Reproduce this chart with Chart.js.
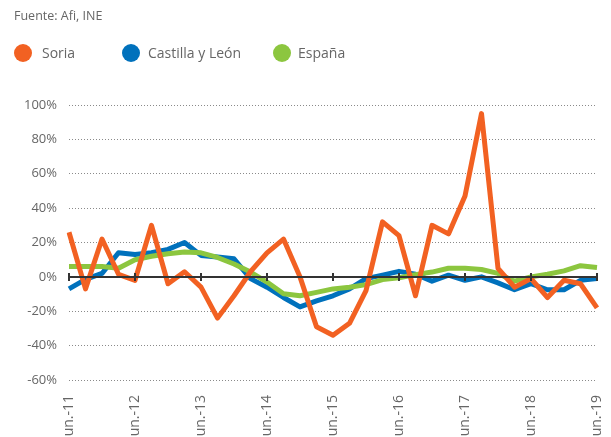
<!DOCTYPE html>
<html>
<head>
<meta charset="utf-8">
<script src="https://cdn.jsdelivr.net/npm/chart.js@4/dist/chart.umd.min.js"></script>
<style>
  body { margin: 0; background: #fff; font-family: "Open Sans", sans-serif; }
  #wrap { position: relative; width: 611px; height: 437px; overflow: hidden; }
  #chart { position: absolute; left: 0; top: 0; }
  .src { position: absolute; left: 14px; top: 7px; font-size: 12.5px; color: #666; line-height: 18px; }
  .item { position: absolute; top: 44px; font-size: 14px; color: #666; line-height: 18px; }
  .dot { position: absolute; top: 0; width: 18px; height: 18px; border-radius: 50%; }
</style>
</head>
<body>
<div id="wrap">
  <canvas id="chart" width="611" height="437"></canvas>
  <div class="src">Fuente: Afi, INE</div>
  <div id="legend"></div>
</div>
<script>
const quarters = [
  "jun.-11", "sep.-11", "dic.-11", "mar.-12", "jun.-12", "sep.-12", "dic.-12", "mar.-13",
  "jun.-13", "sep.-13", "dic.-13", "mar.-14", "jun.-14", "sep.-14", "dic.-14", "mar.-15",
  "jun.-15", "sep.-15", "dic.-15", "mar.-16", "jun.-16", "sep.-16", "dic.-16", "mar.-17",
  "jun.-17", "sep.-17", "dic.-17", "mar.-18", "jun.-18", "sep.-18", "dic.-18", "mar.-19",
  "jun.-19"
];

const soria = [26, -7, 22, 1.5, -2, 30, -4, 3, -6, -24, -11, 3, 14, 22, 0, -29, -34,
  -27, -8, 32, 24, -11, 30, 25, 47, 95, 5, -6, -1, -12, -2, -4, -18];
const castilla = [-7, -1.5, 2, 14, 13, 14, 16, 20, 12.5, 11.5, 10.5, -1, -6, -12, -17.5, -14, -11,
  -7, -1, 1, 3.2, 1.5, -2.5, 1, -2, 0, -3.5, -7.5, -4, -7.5, -7.5, -2, -1];
const espana = [6, 6, 6, 5, 10, 12, 13.5, 14.5, 14, 11.3, 7.5, 2.8, -3, -9.8, -11, -9, -7,
  -6, -4.5, -1.6, -0.5, 1.3, 2.8, 5, 5, 4.3, 2, -2.5, 0, 1.5, 3.5, 6.5, 5.5];

const yTicks = [-60, -40, -20, 0, 20, 40, 60, 80, 100];

const series = [
  { label: "Soria", data: soria, color: "#F26122", order: 0, dotX: 14, textX: 42 },
  { label: "Castilla y León", data: castilla, color: "#0071BC", order: 2, dotX: 122, textX: 148 },
  { label: "España", data: espana, color: "#8CC63F", order: 1, dotX: 273, textX: 298 },
];

// legend as plain html, placed like the original
const legend = document.getElementById("legend");
series.forEach((s) => {
  const dot = document.createElement("div");
  dot.className = "dot";
  dot.style.left = s.dotX + "px";
  dot.style.top = "44px";
  dot.style.background = s.color;
  legend.appendChild(dot);
  const t = document.createElement("div");
  t.className = "item";
  t.style.left = s.textX + "px";
  t.textContent = s.label;
  legend.appendChild(t);
});

// black zero axis with year ticks
const zeroAxis = {
  id: "zeroAxis",
  afterDatasetsDraw(chart) {
    const { ctx, chartArea, scales } = chart;
    const y0 = scales.y.getPixelForValue(0);
    ctx.save();
    ctx.strokeStyle = "#333";
    ctx.lineWidth = 2;
    ctx.beginPath();
    ctx.moveTo(chartArea.left, y0);
    ctx.lineTo(chartArea.right, y0);
    quarters.forEach((q, i) => {
      if (i % 4 !== 0) return;
      const px = Math.round(scales.x.getPixelForValue(i));
      ctx.moveTo(px, y0 - 4);
      ctx.lineTo(px, y0 + 4);
    });
    ctx.stroke();
    ctx.restore();
  },
};

Chart.defaults.font.family = "'Open Sans', sans-serif";
Chart.defaults.color = "#666";

new Chart(document.getElementById("chart"), {
  type: "line",
  data: {
    labels: quarters,
    datasets: series.map((s) => ({
      label: s.label,
      data: s.data,
      borderColor: s.color,
      backgroundColor: s.color,
      borderWidth: 5,
      borderJoinStyle: "round",
      pointRadius: 0,
      tension: 0,
      order: s.order,
    })),
  },
  options: {
    responsive: false,
    animation: false,
    layout: { padding: { top: 105, right: 14, left: 0, bottom: 0 } },
    plugins: { legend: { display: false }, tooltip: { enabled: false } },
    scales: {
      x: {
        offset: false,
        grid: { display: false },
        border: { display: false },
        ticks: {
          autoSkip: false,
          minRotation: 90,
          maxRotation: 90,
          padding: 7,
          font: { size: 14 },
          color: "#666",
          callback: (v, i) => (i % 4 === 0 ? quarters[i] : ""),
        },
        afterFit: (s) => {
          s.height = 57;
          s.paddingLeft = 0;
          s.paddingRight = 0;
        },
      },
      y: {
        min: yTicks[0],
        max: yTicks[yTicks.length - 1],
        afterBuildTicks: (s) => { s.ticks = yTicks.map((v) => ({ value: v })); },
        grid: {
          drawTicks: false,
          lineWidth: 1,
          color: (c) => (c.tick && c.tick.value === 0 ? "rgba(0,0,0,0)" : "#8a8a8a"),
        },
        border: { display: false, dash: [1, 2] },
        ticks: {
          padding: 12,
          font: { size: 13 },
          color: "#666",
          callback: (v) => v + "%",
        },
        afterFit: (s) => {
          s.width = 69;
          s.paddingTop = 0;
          s.paddingBottom = 0;
        },
      },
    },
  },
  plugins: [zeroAxis],
});
</script>
</body>
</html>
